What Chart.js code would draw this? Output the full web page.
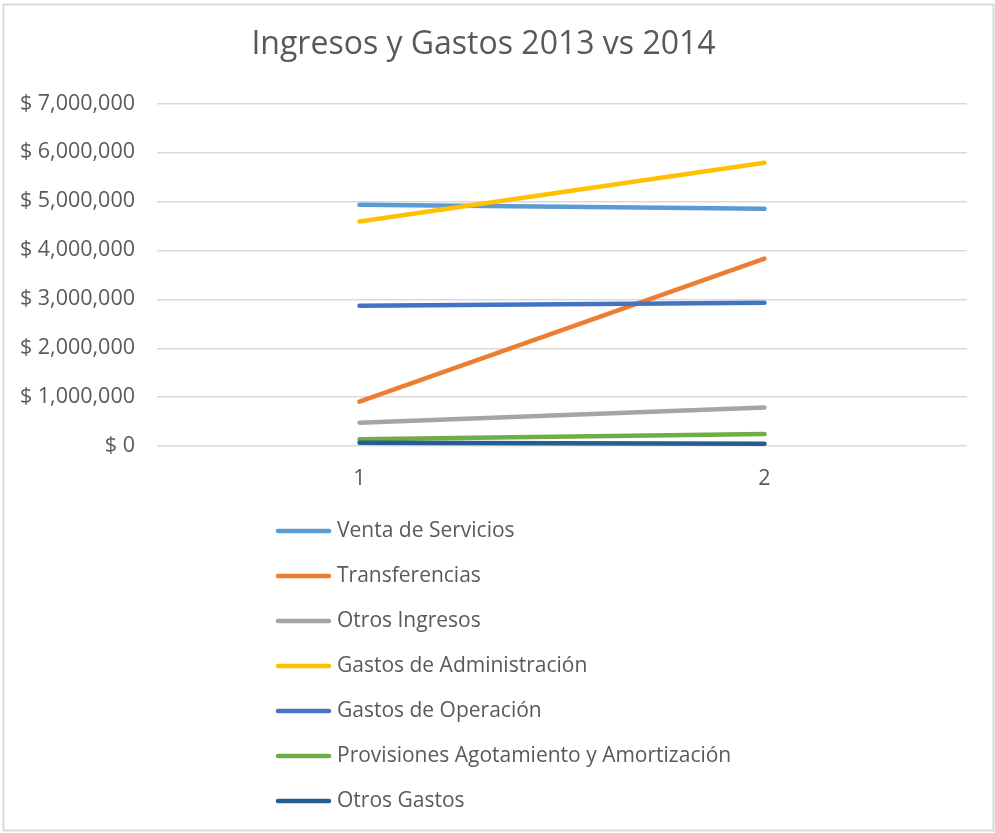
<!DOCTYPE html>
<html>
<head>
<meta charset="utf-8">
<script src="https://cdn.jsdelivr.net/npm/chart.js@4"></script>
<style>
  html, body { margin: 0; padding: 0; background: #ffffff; }
  #c { display: block; }
</style>
</head>
<body>
<canvas id="c" width="995" height="833"></canvas>
<script>
const categories = ['1', '2'];
const seriesNames = [
  'Venta de Servicios',
  'Transferencias',
  'Otros Ingresos',
  'Gastos de Administración',
  'Gastos de Operación',
  'Provisiones Agotamiento y Amortización',
  'Otros Gastos'
];
const ventaServicios = [4930000, 4850000];
const transferencias = [910000, 3830000];
const otrosIngresos = [480000, 790000];
const gastosAdministracion = [4590000, 5790000];
const gastosOperacion = [2870000, 2930000];
const provisiones = [140000, 250000];
const otrosGastos = [70000, 50000];
const seriesColors = ['#5B9BD5', '#ED7D31', '#A5A5A5', '#FFC000', '#4472C4', '#70AD47', '#255E91'];
const yTicks = [0, 1000000, 2000000, 3000000, 4000000, 5000000, 6000000, 7000000];

const seriesValues = [ventaServicios, transferencias, otrosIngresos, gastosAdministracion, gastosOperacion, provisiones, otrosGastos];
const FONT = "'Open Sans', 'Noto Sans', sans-serif";
const TXT = '#595959';

const datasets = seriesValues.map((vals, i) => ({
  label: seriesNames[i],
  data: vals,
  borderColor: seriesColors[i],
  backgroundColor: seriesColors[i],
  borderWidth: 4.5,
  borderCapStyle: 'round',
  borderJoinStyle: 'round',
  pointRadius: 0,
  pointHoverRadius: 0,
  fill: false,
  tension: 0,
  order: seriesValues.length - i
}));

const frameAndLegend = {
  id: 'frameAndLegend',
  beforeDraw(chart) {
    const ctx = chart.ctx;
    ctx.save();
    ctx.fillStyle = '#ffffff';
    ctx.fillRect(0, 0, chart.width, chart.height);
    ctx.restore();
  },
  afterDraw(chart) {
    const ctx = chart.ctx;
    ctx.save();
    ctx.strokeStyle = '#d9d9d9';
    ctx.lineWidth = 2;
    ctx.strokeRect(3.5, 4.5, 990, 826);
    const x0 = 278, x1 = 329, tx = 337, y0 = 531, step = 45;
    chart.data.datasets.forEach((ds, i) => {
      const y = y0 + i * step;
      ctx.strokeStyle = ds.borderColor;
      ctx.lineWidth = 4.5;
      ctx.lineCap = 'round';
      ctx.beginPath();
      ctx.moveTo(x0, y);
      ctx.lineTo(x1, y);
      ctx.stroke();
      ctx.fillStyle = TXT;
      ctx.font = "21px " + FONT;
      ctx.textAlign = 'left';
      ctx.textBaseline = 'middle';
      ctx.fillText(ds.label, tx, y);
    });
    ctx.restore();
  }
};

new Chart(document.getElementById('c'), {
  type: 'line',
  data: { labels: categories, datasets },
  plugins: [frameAndLegend],
  options: {
    responsive: false,
    animation: false,
    events: [],
    layout: { padding: { left: 0, right: 28, top: 0, bottom: 321 } },
    plugins: {
      legend: { display: false },
      tooltip: { enabled: false },
      title: {
        display: true,
        text: 'Ingresos y Gastos 2013 vs 2014',
        color: TXT,
        font: { family: FONT, size: 32, weight: 'normal' },
        padding: { top: 26, bottom: 39 }
      }
    },
    scales: {
      x: {
        type: 'category',
        offset: true,
        grid: { display: false, drawTicks: false },
        border: { display: false },
        ticks: { color: TXT, font: { family: FONT, size: 21.5 }, padding: 20 }
      },
      y: {
        min: 0,
        max: 7000000,
        afterFit(scale) { scale.width = 157; },
        afterBuildTicks(scale) { scale.ticks = yTicks.map(v => ({ value: v })); },
        grid: { color: '#d9d9d9', lineWidth: 1.5, drawTicks: false },
        border: { display: false },
        ticks: {
          color: TXT,
          font: { family: FONT, size: 21.5 },
          padding: 22,
          callback: v => '$ ' + Number(v).toLocaleString('en-US')
        }
      }
    }
  }
});
</script>
</body>
</html>
